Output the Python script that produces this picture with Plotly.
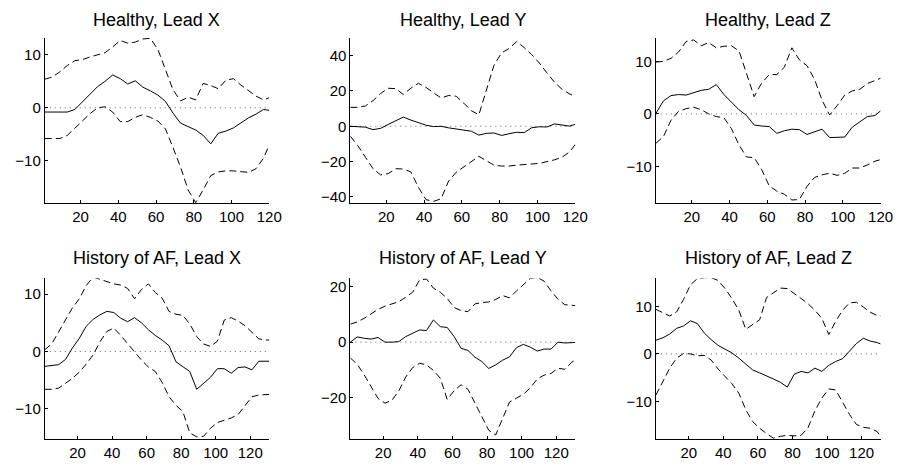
import plotly.graph_objects as go

# sample positions (samples along the beat)
x_healthy = [1, 5, 9, 13, 17, 21, 25, 29, 33, 37, 41, 45, 49, 53, 57, 61, 65, 69, 73, 77,
             81, 85, 89, 93, 97, 101, 105, 109, 113, 117, 120]
x_af = [1, 5, 9, 13, 17, 21, 25, 29, 33, 37, 41, 45, 49, 53, 57, 61, 65, 69, 73, 77,
        81, 85, 89, 93, 97, 101, 105, 109, 113, 117, 121, 125, 129, 131]

# Healthy, Lead X
hx_mean = [-0.8, -0.8, -0.8, -0.8, -0.3, 1.2, 2.7, 4.0, 5.0, 6.2, 5.5, 4.5, 5.1, 3.9, 3.2, 2.4,
           1.2, -1.0, -2.9, -3.6, -4.2, -5.2, -6.8, -4.8, -4.4, -3.8, -2.9, -1.9, -1.2, -0.3, -0.5]
hx_upper = [5.4, 5.8, 6.8, 8.0, 8.9, 9.1, 9.6, 10.0, 10.4, 11.5, 12.7, 12.2, 12.4, 13.0, 13.1, 11.0,
            7.0, 3.4, 1.3, 2.0, 1.5, 4.6, 4.2, 3.6, 5.2, 5.5, 4.3, 3.2, 2.2, 1.5, 1.9]
hx_lower = [-5.8, -5.8, -5.8, -5.2, -3.8, -2.4, -1.1, 0.0, 0.2, -0.8, -2.6, -2.6, -1.8, -1.3, -1.8, -2.5,
            -4.0, -7.5, -11.2, -15.5, -17.9, -15.5, -12.8, -12.1, -11.9, -11.9, -12.0, -12.2, -11.5, -9.5, -7.0]

# Healthy, Lead Y
hy_mean = [0.0, -0.2, -0.5, -1.9, -1.2, 1.0, 3.0, 5.2, 3.5, 2.0, 0.6, -0.2, 0.0, -0.9, -1.5, -2.0,
           -2.8, -5.0, -4.0, -3.8, -5.2, -4.2, -3.4, -3.6, -0.8, -0.3, -0.4, 1.3, 0.6, 0.1, 1.1]
hy_upper = [10.7, 10.7, 11.5, 14.5, 18.5, 21.5, 21.3, 18.0, 21.5, 24.3, 22.0, 18.8, 16.0, 17.4, 17.0, 13.1,
            8.8, 6.5, 21.0, 34.5, 41.5, 44.0, 47.9, 44.5, 40.5, 35.8, 30.2, 24.9, 20.9, 18.3, 16.9]
hy_lower = [-5.6, -11.0, -17.5, -24.0, -27.5, -26.8, -24.0, -24.2, -25.8, -34.5, -41.5, -42.5, -41.0, -31.0, -26.0, -23.0,
            -20.0, -17.0, -19.5, -22.0, -22.5, -22.5, -22.0, -21.6, -21.6, -21.0, -20.0, -19.0, -17.5, -14.5, -10.3]

# Healthy, Lead Z
hz_mean = [0.1, 2.5, 3.5, 3.7, 3.6, 4.0, 4.5, 4.7, 5.6, 3.7, 2.3, 0.8, -0.3, -2.1, -2.3, -2.4,
           -3.7, -3.2, -2.9, -3.0, -3.9, -3.4, -2.9, -4.5, -4.5, -4.4, -2.5, -1.5, -0.5, -0.3, 0.6]
hz_upper = [9.9, 10.0, 10.6, 11.8, 13.8, 14.1, 13.0, 13.6, 12.6, 12.9, 13.0, 12.0, 7.7, 3.3, 5.9, 7.5,
            7.5, 8.9, 12.6, 10.3, 9.2, 6.6, 2.6, -0.2, 1.6, 3.6, 4.4, 4.7, 5.8, 6.4, 6.8]
hz_lower = [-5.6, -4.3, -1.2, 0.5, 1.0, 1.3, 0.8, 0.0, -0.5, -0.7, -2.8, -5.9, -8.2, -8.3, -10.6, -13.7,
            -14.7, -15.3, -16.4, -16.3, -13.8, -12.1, -11.6, -11.3, -11.7, -11.3, -10.3, -10.3, -9.7, -9.0, -8.7]

# History of AF, Lead X
ax_mean = [-2.6, -2.4, -2.3, -1.4, 0.6, 2.3, 4.4, 5.6, 6.4, 7.0, 6.8, 5.8, 5.2, 5.9, 5.0, 3.8, 2.8,
           2.0, 1.0, -1.8, -2.6, -3.5, -6.6, -5.6, -4.5, -3.0, -3.0, -3.8, -2.8, -2.7, -3.2, -1.7, -1.7, -1.7]
ax_upper = [0.3, 1.3, 3.4, 5.4, 7.6, 9.2, 11.5, 13.0, 12.6, 12.2, 11.8, 11.6, 11.0, 9.2, 10.8, 11.8, 10.3,
            9.3, 7.0, 6.5, 6.3, 4.8, 2.6, 1.3, 0.9, 1.8, 5.5, 5.9, 5.3, 4.5, 3.3, 2.2, 2.0, 2.0]
ax_lower = [-6.6, -6.6, -6.4, -5.6, -4.7, -3.6, -2.2, -0.6, 1.7, 3.5, 4.1, 2.8, 1.4, 0.0, -1.5, -2.7, -3.5,
            -5.4, -7.9, -9.4, -10.5, -14.2, -14.9, -14.8, -13.4, -12.4, -12.0, -11.6, -11.0, -9.5, -7.9, -7.6, -7.6, -7.5]

# History of AF, Lead Y
ay_mean = [0.0, 1.9, 1.4, 1.1, 1.7, 0.0, 0.0, 0.2, 2.0, 3.2, 4.4, 4.2, 8.0, 5.6, 5.3, 2.0, -2.2,
           -3.0, -5.4, -7.0, -9.5, -8.2, -6.5, -5.3, -2.0, -0.8, -1.8, -3.2, -2.5, -2.5, 0.0, -0.3, -0.1, -0.1]
ay_upper = [6.5, 7.3, 8.6, 10.2, 11.8, 13.0, 13.7, 14.6, 16.2, 18.0, 22.4, 22.8, 19.5, 18.0, 15.8, 12.5, 11.4,
            11.0, 13.8, 14.3, 14.5, 15.4, 16.8, 16.0, 18.5, 20.6, 23.0, 23.4, 22.0, 18.5, 15.5, 13.5, 13.4, 13.2]
ay_lower = [-5.7, -8.0, -11.8, -16.3, -20.3, -22.0, -21.0, -17.6, -12.6, -9.2, -7.6, -8.2, -10.2, -13.0, -20.7, -17.5, -15.4,
            -17.0, -21.9, -26.8, -31.8, -33.5, -27.3, -21.6, -20.2, -18.8, -16.5, -13.3, -11.9, -11.3, -9.4, -9.8, -7.2, -6.5]

# History of AF, Lead Z
az_mean = [2.9, 3.4, 4.2, 5.4, 5.9, 7.0, 6.4, 4.4, 3.0, 1.8, 1.0, 0.2, -0.9, -2.1, -3.4, -4.0, -4.6,
           -5.3, -6.0, -7.0, -4.3, -3.7, -4.0, -3.0, -3.7, -2.4, -1.6, -1.0, 0.6, 2.2, 3.3, 2.7, 2.4, 2.1]
az_upper = [9.4, 8.7, 8.0, 8.9, 11.5, 14.6, 15.9, 16.1, 16.1, 15.5, 13.8, 11.7, 9.2, 5.2, 6.2, 7.2, 11.9,
            12.9, 13.9, 13.8, 12.8, 11.7, 10.6, 9.2, 7.5, 4.1, 6.9, 9.2, 10.8, 10.9, 9.9, 8.8, 8.1, 8.0]
az_lower = [-8.7, -5.9, -3.0, -0.9, 0.1, 0.0, -0.4, -0.3, -1.3, -3.2, -4.8, -6.3, -8.3, -11.8, -14.3, -15.7, -16.8,
            -17.8, -17.4, -17.2, -17.3, -17.2, -15.6, -12.0, -9.3, -7.4, -7.6, -10.2, -12.8, -14.9, -15.5, -15.7, -16.4, -17.5]

titles = ["Healthy, Lead X", "Healthy, Lead Y", "Healthy, Lead Z",
          "History of AF, Lead X", "History of AF, Lead Y", "History of AF, Lead Z"]
x_ticks = [20, 40, 60, 80, 100, 120]

panels = [
    (x_healthy, hx_mean, hx_upper, hx_lower, [-18, 13.2], [-10, 0, 10], [1, 120]),
    (x_healthy, hy_mean, hy_upper, hy_lower, [-43.5, 50], [-40, -20, 0, 20, 40], [1, 120]),
    (x_healthy, hz_mean, hz_upper, hz_lower, [-17, 14.5], [-10, 0, 10], [1, 120]),
    (x_af, ax_mean, ax_upper, ax_lower, [-15.3, 12.8], [-10, 0, 10], [1, 131]),
    (x_af, ay_mean, ay_upper, ay_lower, [-35, 23.1], [-20, 0, 20], [1, 131]),
    (x_af, az_mean, az_upper, az_lower, [-18, 16], [-10, 0, 10], [1, 131]),
]

W, H = 909, 469
OFF = 8  # the page body keeps its default 8px margin, so the figure sits 8px in
col_px = [(45.3, 273.0), (355.3, 583.5), (665.3, 893.3)]
row_px = [(38.0, 204.0), (279.3, 441.0)]
title_y_px = [20, 259]

font = "Liberation Sans, Arial, Helvetica, sans-serif"
fig = go.Figure()
layout = {}

for i, (xs, mean, up, lo, yr, yt, xr) in enumerate(panels):
    r, c = divmod(i, 3)
    n = "" if i == 0 else str(i + 1)
    xa, ya = "x" + n, "y" + n
    dash = "7px,4px"
    fig.add_trace(go.Scatter(x=xs, y=up, mode="lines", xaxis=xa, yaxis=ya,
                             line=dict(color="black", width=1, dash=dash)))
    fig.add_trace(go.Scatter(x=xs, y=lo, mode="lines", xaxis=xa, yaxis=ya,
                             line=dict(color="black", width=1, dash=dash)))
    fig.add_trace(go.Scatter(x=xs, y=mean, mode="lines", xaxis=xa, yaxis=ya,
                             line=dict(color="black", width=1)))

    x0, x1 = (p - OFF for p in col_px[c])
    y0, y1 = (p - OFF for p in row_px[r])
    layout["xaxis" + n] = dict(
        domain=[x0 / W, x1 / W], range=xr, anchor=ya, tickvals=x_ticks,
        showline=True, linecolor="black", linewidth=1, mirror=False,
        ticks="inside", ticklen=3, tickcolor="black", showgrid=False, zeroline=False,
        tickfont=dict(family=font, size=15, color="black"))
    layout["yaxis" + n] = dict(
        domain=[1 - y1 / H, 1 - y0 / H], range=yr, anchor=xa, tickvals=yt,
        showline=True, linecolor="black", linewidth=1, mirror=False,
        ticks="inside", ticklen=3, tickcolor="black", showgrid=False, zeroline=False,
        tickfont=dict(family=font, size=15, color="black"))

    # dotted zero reference
    fig.add_shape(type="line", xref=xa + " domain", yref=ya, x0=0, x1=1, y0=0, y1=0,
                  line=dict(color="#666666", width=1, dash="1px,4px"), layer="below")

    fig.add_annotation(text=titles[i], xref="paper", yref="paper",
                       x=(x0 + x1) / 2 / W, y=1 - (title_y_px[r] - OFF) / H,
                       xanchor="center", yanchor="middle", showarrow=False,
                       font=dict(family=font, size=18, color="black"))

fig.update_layout(**layout)
fig.update_layout(width=W, height=H, margin=dict(l=0, r=0, t=0, b=0),
                  paper_bgcolor="white", plot_bgcolor="white", showlegend=False)

fig.write_html("out.html")
